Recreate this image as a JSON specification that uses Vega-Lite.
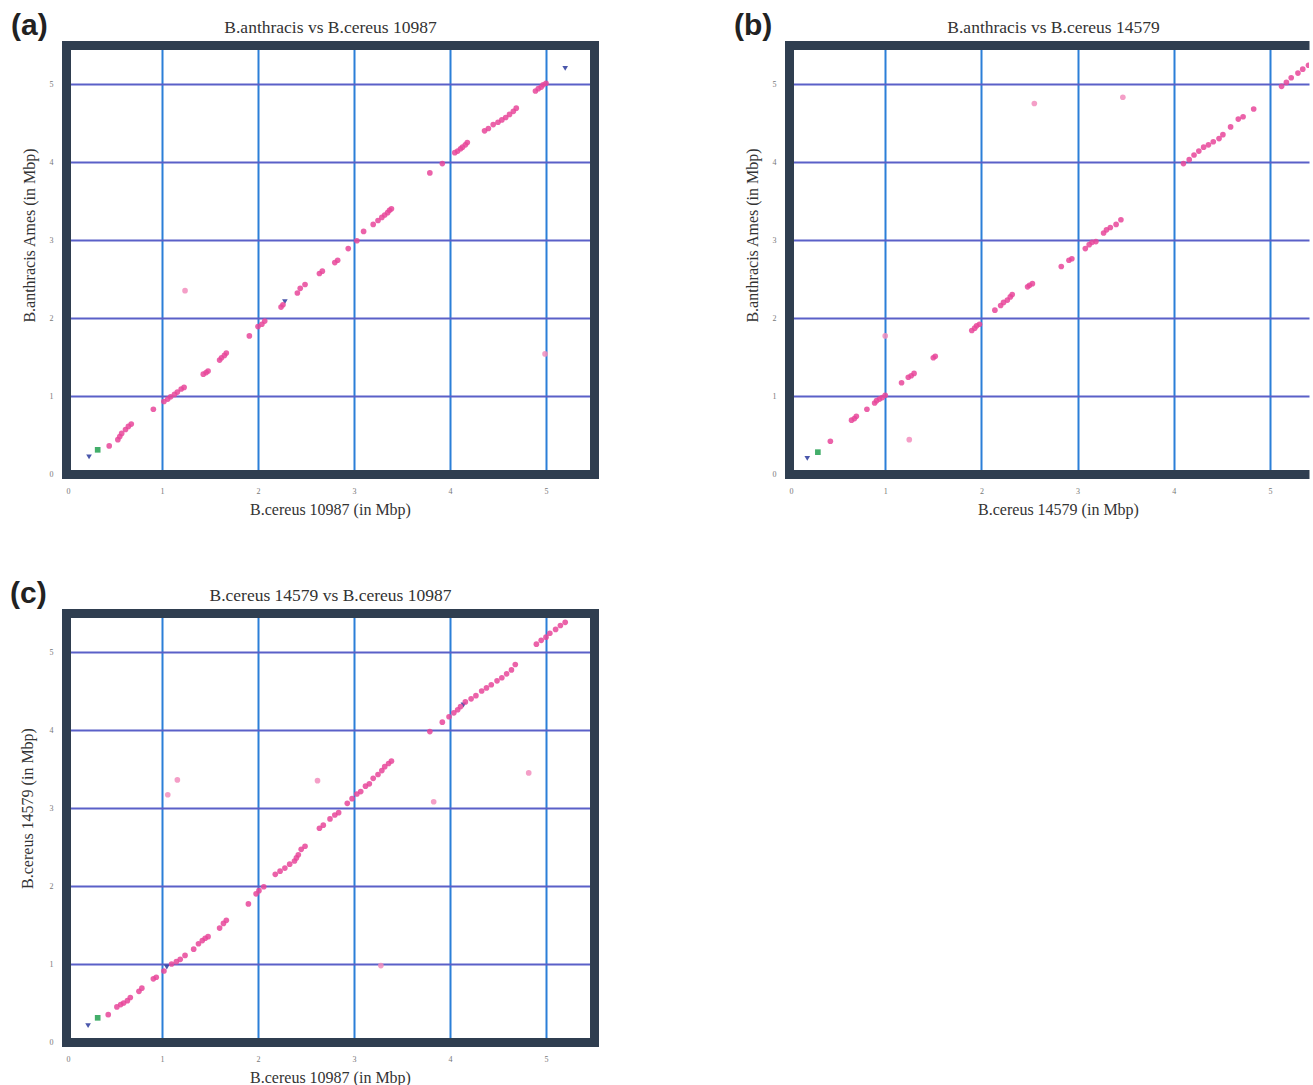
{
"$schema": "https://vega.github.io/schema/vega-lite/v6.json",
"padding": {"left": 10, "top": 11, "right": 0, "bottom": 0},
"config": {
  "view": {"stroke": null},
  "axis": {"labelFont": "Liberation Serif", "labelFontSize": 8, "labelColor": "#777777", "labelPadding": 13, "ticks": false,
           "titleFont": "Liberation Serif", "titleFontSize": 16, "titleFontWeight": "normal", "titleColor": "#333333",
           "domainColor": "#2f3e50", "domainWidth": 9, "domainCap": "square", "gridWidth": 2, "gridOpacity": 1},
  "axisX": {"titlePadding": 6},
  "axisY": {"titlePadding": 12},
  "title": {"font": "Liberation Sans", "fontSize": 30, "fontWeight": "bold", "color": "#222222"}
},
"datasets": {
  "a": [
    {"x":0.24,"y":0.22,"t":"blue"},{"x":2.28,"y":2.21,"t":"blue"},{"x":5.20,"y":5.20,"t":"blue"},
    {"x":0.33,"y":0.31,"t":"green"},
    {"x":1.24,"y":2.35,"t":"faint"},{"x":4.99,"y":1.54,"t":"faint"},
    {"x":0.45,"y":0.36,"t":"match"},{"x":0.54,"y":0.44,"t":"match"},{"x":0.56,"y":0.48,"t":"match"},{"x":0.58,"y":0.52,"t":"match"},
    {"x":0.62,"y":0.57,"t":"match"},{"x":0.65,"y":0.61,"t":"match"},{"x":0.68,"y":0.64,"t":"match"},{"x":0.91,"y":0.83,"t":"match"},
    {"x":1.02,"y":0.93,"t":"match"},{"x":1.06,"y":0.96,"t":"match"},{"x":1.09,"y":0.99,"t":"match"},{"x":1.13,"y":1.02,"t":"match"},
    {"x":1.16,"y":1.05,"t":"match"},{"x":1.20,"y":1.09,"t":"match"},{"x":1.23,"y":1.11,"t":"match"},{"x":1.43,"y":1.28,"t":"match"},
    {"x":1.46,"y":1.30,"t":"match"},{"x":1.48,"y":1.32,"t":"match"},{"x":1.60,"y":1.46,"t":"match"},{"x":1.62,"y":1.49,"t":"match"},
    {"x":1.65,"y":1.52,"t":"match"},{"x":1.67,"y":1.55,"t":"match"},{"x":1.91,"y":1.77,"t":"match"},{"x":2.00,"y":1.89,"t":"match"},
    {"x":2.04,"y":1.92,"t":"match"},{"x":2.07,"y":1.96,"t":"match"},{"x":2.24,"y":2.14,"t":"match"},{"x":2.26,"y":2.17,"t":"match"},
    {"x":2.41,"y":2.32,"t":"match"},{"x":2.44,"y":2.38,"t":"match"},{"x":2.49,"y":2.43,"t":"match"},{"x":2.64,"y":2.57,"t":"match"},
    {"x":2.67,"y":2.60,"t":"match"},{"x":2.80,"y":2.71,"t":"match"},{"x":2.83,"y":2.74,"t":"match"},{"x":2.94,"y":2.89,"t":"match"},
    {"x":3.03,"y":2.99,"t":"match"},{"x":3.10,"y":3.11,"t":"match"},{"x":3.20,"y":3.20,"t":"match"},{"x":3.25,"y":3.25,"t":"match"},
    {"x":3.29,"y":3.29,"t":"match"},{"x":3.32,"y":3.32,"t":"match"},{"x":3.35,"y":3.35,"t":"match"},{"x":3.37,"y":3.38,"t":"match"},
    {"x":3.39,"y":3.40,"t":"match"},{"x":3.79,"y":3.86,"t":"match"},{"x":3.92,"y":3.98,"t":"match"},{"x":4.05,"y":4.12,"t":"match"},
    {"x":4.08,"y":4.14,"t":"match"},{"x":4.11,"y":4.17,"t":"match"},{"x":4.13,"y":4.19,"t":"match"},{"x":4.16,"y":4.22,"t":"match"},
    {"x":4.18,"y":4.25,"t":"match"},{"x":4.36,"y":4.40,"t":"match"},{"x":4.40,"y":4.43,"t":"match"},{"x":4.45,"y":4.48,"t":"match"},
    {"x":4.50,"y":4.51,"t":"match"},{"x":4.54,"y":4.54,"t":"match"},{"x":4.58,"y":4.57,"t":"match"},{"x":4.62,"y":4.61,"t":"match"},
    {"x":4.66,"y":4.65,"t":"match"},{"x":4.69,"y":4.69,"t":"match"},{"x":4.89,"y":4.91,"t":"match"},{"x":4.92,"y":4.94,"t":"match"},
    {"x":4.95,"y":4.96,"t":"match"},{"x":4.97,"y":4.99,"t":"match"},{"x":5.00,"y":5.01,"t":"match"}
  ],
  "b": [
    {"x":0.19,"y":0.20,"t":"blue"},{"x":0.30,"y":0.28,"t":"green"},
    {"x":1.00,"y":1.77,"t":"faint"},{"x":1.25,"y":0.44,"t":"faint"},{"x":2.55,"y":4.75,"t":"faint"},{"x":3.47,"y":4.83,"t":"faint"},
    {"x":0.43,"y":0.42,"t":"match"},{"x":0.65,"y":0.69,"t":"match"},{"x":0.68,"y":0.71,"t":"match"},{"x":0.70,"y":0.74,"t":"match"},
    {"x":0.81,"y":0.83,"t":"match"},{"x":0.89,"y":0.91,"t":"match"},{"x":0.91,"y":0.94,"t":"match"},{"x":0.94,"y":0.96,"t":"match"},
    {"x":0.97,"y":0.98,"t":"match"},{"x":1.00,"y":1.01,"t":"match"},{"x":1.17,"y":1.17,"t":"match"},{"x":1.24,"y":1.24,"t":"match"},
    {"x":1.27,"y":1.26,"t":"match"},{"x":1.30,"y":1.29,"t":"match"},{"x":1.50,"y":1.49,"t":"match"},{"x":1.52,"y":1.51,"t":"match"},
    {"x":1.90,"y":1.84,"t":"match"},{"x":1.93,"y":1.87,"t":"match"},{"x":1.95,"y":1.90,"t":"match"},{"x":1.98,"y":1.92,"t":"match"},
    {"x":2.14,"y":2.10,"t":"match"},{"x":2.20,"y":2.16,"t":"match"},{"x":2.23,"y":2.20,"t":"match"},{"x":2.27,"y":2.23,"t":"match"},
    {"x":2.30,"y":2.27,"t":"match"},{"x":2.32,"y":2.30,"t":"match"},{"x":2.48,"y":2.40,"t":"match"},{"x":2.50,"y":2.42,"t":"match"},
    {"x":2.53,"y":2.44,"t":"match"},{"x":2.83,"y":2.66,"t":"match"},{"x":2.91,"y":2.74,"t":"match"},{"x":2.94,"y":2.76,"t":"match"},
    {"x":3.08,"y":2.89,"t":"match"},{"x":3.12,"y":2.94,"t":"match"},{"x":3.15,"y":2.97,"t":"match"},{"x":3.19,"y":2.98,"t":"match"},
    {"x":3.27,"y":3.09,"t":"match"},{"x":3.30,"y":3.13,"t":"match"},{"x":3.34,"y":3.16,"t":"match"},{"x":3.40,"y":3.20,"t":"match"},
    {"x":3.45,"y":3.26,"t":"match"},{"x":4.10,"y":3.98,"t":"match"},{"x":4.16,"y":4.03,"t":"match"},{"x":4.21,"y":4.09,"t":"match"},
    {"x":4.26,"y":4.14,"t":"match"},{"x":4.31,"y":4.19,"t":"match"},{"x":4.36,"y":4.22,"t":"match"},{"x":4.41,"y":4.26,"t":"match"},
    {"x":4.47,"y":4.30,"t":"match"},{"x":4.51,"y":4.35,"t":"match"},{"x":4.59,"y":4.45,"t":"match"},{"x":4.67,"y":4.55,"t":"match"},
    {"x":4.72,"y":4.58,"t":"match"},{"x":4.83,"y":4.68,"t":"match"},{"x":5.12,"y":4.97,"t":"match"},{"x":5.17,"y":5.02,"t":"match"},
    {"x":5.22,"y":5.08,"t":"match"},{"x":5.29,"y":5.14,"t":"match"},{"x":5.34,"y":5.19,"t":"match"},{"x":5.40,"y":5.24,"t":"match"}
  ],
  "c": [
    {"x":0.23,"y":0.21,"t":"blue"},{"x":1.05,"y":0.96,"t":"blue"},{"x":4.14,"y":4.32,"t":"blue"},
    {"x":0.33,"y":0.31,"t":"green"},
    {"x":3.28,"y":0.98,"t":"faint"},{"x":1.06,"y":3.17,"t":"faint"},{"x":1.16,"y":3.36,"t":"faint"},{"x":2.62,"y":3.35,"t":"faint"},
    {"x":3.83,"y":3.08,"t":"faint"},{"x":4.82,"y":3.45,"t":"faint"},
    {"x":0.44,"y":0.35,"t":"match"},{"x":0.53,"y":0.45,"t":"match"},{"x":0.57,"y":0.48,"t":"match"},{"x":0.60,"y":0.50,"t":"match"},
    {"x":0.64,"y":0.53,"t":"match"},{"x":0.67,"y":0.57,"t":"match"},{"x":0.76,"y":0.65,"t":"match"},{"x":0.79,"y":0.69,"t":"match"},
    {"x":0.91,"y":0.81,"t":"match"},{"x":0.94,"y":0.83,"t":"match"},{"x":1.02,"y":0.91,"t":"match"},{"x":1.10,"y":1.00,"t":"match"},
    {"x":1.15,"y":1.03,"t":"match"},{"x":1.19,"y":1.06,"t":"match"},{"x":1.24,"y":1.11,"t":"match"},{"x":1.33,"y":1.19,"t":"match"},
    {"x":1.38,"y":1.26,"t":"match"},{"x":1.42,"y":1.30,"t":"match"},{"x":1.45,"y":1.33,"t":"match"},{"x":1.48,"y":1.35,"t":"match"},
    {"x":1.60,"y":1.46,"t":"match"},{"x":1.64,"y":1.52,"t":"match"},{"x":1.67,"y":1.56,"t":"match"},{"x":1.90,"y":1.77,"t":"match"},
    {"x":1.98,"y":1.90,"t":"match"},{"x":2.01,"y":1.94,"t":"match"},{"x":2.06,"y":1.99,"t":"match"},{"x":2.18,"y":2.15,"t":"match"},
    {"x":2.23,"y":2.19,"t":"match"},{"x":2.28,"y":2.23,"t":"match"},{"x":2.33,"y":2.28,"t":"match"},{"x":2.38,"y":2.32,"t":"match"},
    {"x":2.40,"y":2.36,"t":"match"},{"x":2.42,"y":2.40,"t":"match"},{"x":2.45,"y":2.47,"t":"match"},{"x":2.49,"y":2.51,"t":"match"},
    {"x":2.64,"y":2.74,"t":"match"},{"x":2.68,"y":2.78,"t":"match"},{"x":2.75,"y":2.86,"t":"match"},{"x":2.80,"y":2.91,"t":"match"},
    {"x":2.84,"y":2.94,"t":"match"},{"x":2.93,"y":3.06,"t":"match"},{"x":2.98,"y":3.12,"t":"match"},{"x":3.03,"y":3.18,"t":"match"},
    {"x":3.07,"y":3.21,"t":"match"},{"x":3.12,"y":3.28,"t":"match"},{"x":3.16,"y":3.31,"t":"match"},{"x":3.20,"y":3.38,"t":"match"},
    {"x":3.25,"y":3.43,"t":"match"},{"x":3.29,"y":3.48,"t":"match"},{"x":3.32,"y":3.53,"t":"match"},{"x":3.36,"y":3.57,"t":"match"},
    {"x":3.39,"y":3.60,"t":"match"},{"x":3.79,"y":3.98,"t":"match"},{"x":3.92,"y":4.10,"t":"match"},{"x":3.99,"y":4.17,"t":"match"},
    {"x":4.04,"y":4.22,"t":"match"},{"x":4.08,"y":4.26,"t":"match"},{"x":4.11,"y":4.30,"t":"match"},{"x":4.16,"y":4.36,"t":"match"},
    {"x":4.22,"y":4.40,"t":"match"},{"x":4.27,"y":4.44,"t":"match"},{"x":4.33,"y":4.50,"t":"match"},{"x":4.38,"y":4.54,"t":"match"},
    {"x":4.43,"y":4.58,"t":"match"},{"x":4.49,"y":4.63,"t":"match"},{"x":4.54,"y":4.67,"t":"match"},{"x":4.59,"y":4.72,"t":"match"},
    {"x":4.64,"y":4.77,"t":"match"},{"x":4.68,"y":4.84,"t":"match"},{"x":4.90,"y":5.10,"t":"match"},{"x":4.95,"y":5.15,"t":"match"},
    {"x":5.00,"y":5.19,"t":"match"},{"x":5.04,"y":5.24,"t":"match"},{"x":5.10,"y":5.29,"t":"match"},{"x":5.15,"y":5.34,"t":"match"},
    {"x":5.20,"y":5.38,"t":"match"}
  ]
},
"columns": 2,
"align": "none",
"spacing": {"column": 140, "row": 62},
"concat": [
  {
    "width": 528, "height": 429,
    "data": {"name": "a"},
    "title": {"text": "(a)", "anchor": "start", "frame": "bounds", "dx": -10, "offset": -23},
    "layer": [
      {"mark": {"type": "point", "filled": true, "size": 32, "opacity": 0.85, "clip": true},
       "encoding": {
         "x": {"field": "x", "type": "quantitative", "scale": {"domain": [0, 5.5], "nice": false, "zero": false},
               "axis": {"orient": "bottom", "title": "B.cereus 10987 (in Mbp)", "values": [0,1,2,3,4,5], "grid": false, "domain": true, "zindex": 1}},
         "y": {"field": "y", "type": "quantitative", "scale": {"domain": [0, 5.5], "nice": false, "zero": false},
               "axis": {"orient": "left", "title": "B.anthracis Ames (in Mbp)", "titleY": 190, "values": [0,1,2,3,4,5], "grid": false, "domain": true, "zindex": 1}},
         "color": {"field": "t", "type": "nominal", "scale": {"domain": ["match","faint","blue","green"], "range": ["#e8469a","#f28dbd","#2a3a9c","#22a050"]}, "legend": null},
         "shape": {"field": "t", "type": "nominal", "scale": {"domain": ["match","faint","blue","green"], "range": ["circle","circle","triangle-down","square"]}, "legend": null}
       }},
      {"mark": {"type": "point", "opacity": 0},
       "encoding": {
         "x": {"field": "x", "type": "quantitative", "scale": {"domain": [0, 5.5], "nice": false, "zero": false},
               "axis": {"orient": "top", "title": "B.anthracis vs B.cereus 10987", "labels": false, "grid": false, "domain": true, "zindex": 1, "titleFontSize": 17.5, "titlePadding": 9}},
         "y": {"field": "y", "type": "quantitative", "scale": {"domain": [0, 5.5], "nice": false, "zero": false},
               "axis": {"orient": "right", "title": null, "labels": false, "grid": false, "domain": true, "zindex": 1}}
       }},
      {"mark": {"type": "point", "opacity": 0},
       "encoding": {
         "x": {"field": "x", "type": "quantitative", "scale": {"domain": [0, 5.5], "nice": false, "zero": false},
               "axis": {"orient": "bottom", "title": null, "labels": false, "domain": false, "grid": true, "values": [1,2,3,4,5], "gridColor": "#2b7fd8", "zindex": 0}},
         "y": {"field": "y", "type": "quantitative", "scale": {"domain": [0, 5.5], "nice": false, "zero": false},
               "axis": {"orient": "left", "title": null, "labels": false, "domain": false, "grid": true, "values": [1,2,3,4,5], "gridColor": "#5a60c8", "zindex": 0}}
       }}
    ],
    "resolve": {"axis": {"x": "independent", "y": "independent"}}
  },
  {
    "width": 520, "height": 429,
    "data": {"name": "b"},
    "title": {"text": "(b)", "anchor": "start", "frame": "bounds", "dx": -10, "offset": -23},
    "layer": [
      {"mark": {"type": "point", "filled": true, "size": 32, "opacity": 0.85, "clip": true},
       "encoding": {
         "x": {"field": "x", "type": "quantitative", "scale": {"domain": [0, 5.405], "nice": false, "zero": false},
               "axis": {"orient": "bottom", "title": "B.cereus 14579 (in Mbp)", "titleX": 269, "values": [0,1,2,3,4,5], "grid": false, "domain": true, "domainCap": "butt", "zindex": 1}},
         "y": {"field": "y", "type": "quantitative", "scale": {"domain": [0, 5.5], "nice": false, "zero": false},
               "axis": {"orient": "left", "title": "B.anthracis Ames (in Mbp)", "titleY": 190, "values": [0,1,2,3,4,5], "grid": false, "domain": true, "zindex": 1}},
         "color": {"field": "t", "type": "nominal", "scale": {"domain": ["match","faint","blue","green"], "range": ["#e8469a","#f28dbd","#2a3a9c","#22a050"]}, "legend": null},
         "shape": {"field": "t", "type": "nominal", "scale": {"domain": ["match","faint","blue","green"], "range": ["circle","circle","triangle-down","square"]}, "legend": null}
       }},
      {"mark": {"type": "point", "opacity": 0},
       "encoding": {
         "x": {"field": "x", "type": "quantitative", "scale": {"domain": [0, 5.405], "nice": false, "zero": false},
               "axis": {"orient": "top", "title": "B.anthracis vs B.cereus 14579", "titleX": 264, "labels": false, "grid": false, "domain": true, "domainCap": "butt", "zindex": 1, "titleFontSize": 17.5, "titlePadding": 9}}
       }},
      {"mark": {"type": "point", "opacity": 0},
       "encoding": {
         "x": {"field": "x", "type": "quantitative", "scale": {"domain": [0, 5.405], "nice": false, "zero": false},
               "axis": {"orient": "bottom", "title": null, "labels": false, "domain": false, "grid": true, "values": [1,2,3,4,5], "gridColor": "#2b7fd8", "zindex": 0}},
         "y": {"field": "y", "type": "quantitative", "scale": {"domain": [0, 5.5], "nice": false, "zero": false},
               "axis": {"orient": "left", "title": null, "labels": false, "domain": false, "grid": true, "values": [1,2,3,4,5], "gridColor": "#5a60c8", "zindex": 0}}
       }}
    ],
    "resolve": {"axis": {"x": "independent", "y": "independent"}}
  },
  {
    "width": 528, "height": 429,
    "data": {"name": "c"},
    "title": {"text": "(c)", "anchor": "start", "frame": "bounds", "dx": -9, "offset": -23},
    "layer": [
      {"mark": {"type": "point", "filled": true, "size": 32, "opacity": 0.85, "clip": true},
       "encoding": {
         "x": {"field": "x", "type": "quantitative", "scale": {"domain": [0, 5.5], "nice": false, "zero": false},
               "axis": {"orient": "bottom", "title": "B.cereus 10987 (in Mbp)", "values": [0,1,2,3,4,5], "grid": false, "domain": true, "zindex": 1}},
         "y": {"field": "y", "type": "quantitative", "scale": {"domain": [0, 5.5], "nice": false, "zero": false},
               "axis": {"orient": "left", "title": "B.cereus 14579 (in Mbp)", "titleY": 195, "titlePadding": 14, "values": [0,1,2,3,4,5], "grid": false, "domain": true, "zindex": 1}},
         "color": {"field": "t", "type": "nominal", "scale": {"domain": ["match","faint","blue","green"], "range": ["#e8469a","#f28dbd","#2a3a9c","#22a050"]}, "legend": null},
         "shape": {"field": "t", "type": "nominal", "scale": {"domain": ["match","faint","blue","green"], "range": ["circle","circle","triangle-down","square"]}, "legend": null}
       }},
      {"mark": {"type": "point", "opacity": 0},
       "encoding": {
         "x": {"field": "x", "type": "quantitative", "scale": {"domain": [0, 5.5], "nice": false, "zero": false},
               "axis": {"orient": "top", "title": "B.cereus 14579 vs B.cereus 10987", "labels": false, "grid": false, "domain": true, "zindex": 1, "titleFontSize": 17.5, "titlePadding": 9}},
         "y": {"field": "y", "type": "quantitative", "scale": {"domain": [0, 5.5], "nice": false, "zero": false},
               "axis": {"orient": "right", "title": null, "labels": false, "grid": false, "domain": true, "zindex": 1}}
       }},
      {"mark": {"type": "point", "opacity": 0},
       "encoding": {
         "x": {"field": "x", "type": "quantitative", "scale": {"domain": [0, 5.5], "nice": false, "zero": false},
               "axis": {"orient": "bottom", "title": null, "labels": false, "domain": false, "grid": true, "values": [1,2,3,4,5], "gridColor": "#2b7fd8", "zindex": 0}},
         "y": {"field": "y", "type": "quantitative", "scale": {"domain": [0, 5.5], "nice": false, "zero": false},
               "axis": {"orient": "left", "title": null, "labels": false, "domain": false, "grid": true, "values": [1,2,3,4,5], "gridColor": "#5a60c8", "zindex": 0}}
       }}
    ],
    "resolve": {"axis": {"x": "independent", "y": "independent"}}
  }
]
}
